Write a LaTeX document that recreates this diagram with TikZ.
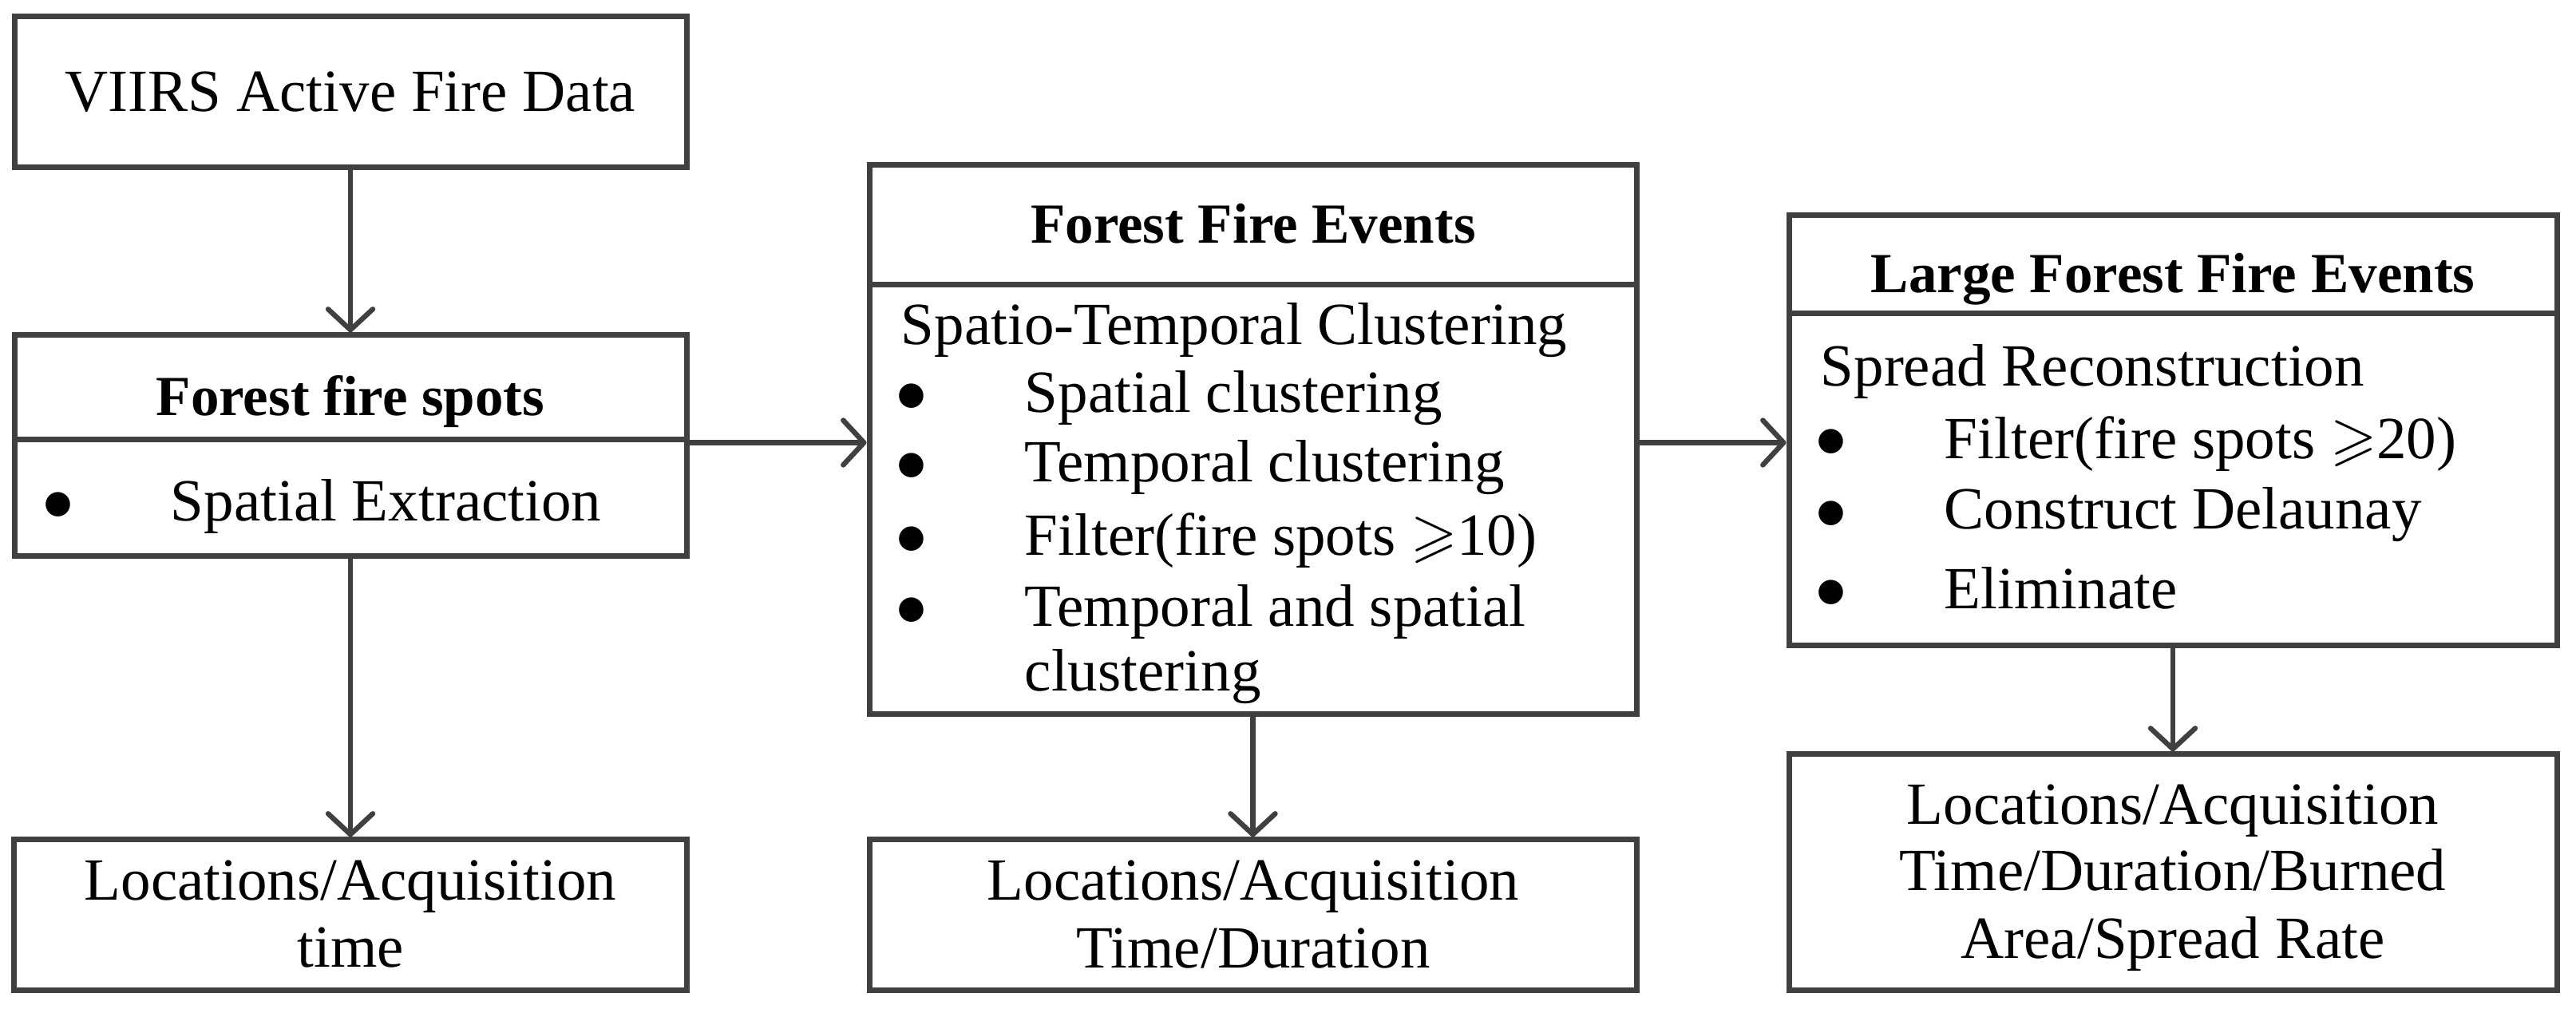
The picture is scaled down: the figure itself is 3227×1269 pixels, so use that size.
\documentclass[tikz,border=0pt]{standalone}
\usepackage{fontspec}
\setmainfont{Liberation Serif}
\newfontfamily\bulfont{DejaVu Sans}
\usepackage{amssymb}
\usetikzlibrary{arrows.meta}
\definecolor{lc}{HTML}{404040}
\begin{document}
\begin{tikzpicture}[x=0.25pt,y=-0.25pt,
  box/.style={draw=lc, line width=1.75pt, inner sep=0pt},
  txt/.style={inner sep=0pt, anchor=base, font=\fontsize{18.75}{22}\selectfont},
  ttl/.style={inner sep=0pt, anchor=base, font=\fontsize{17.75}{22}\selectfont\bfseries},
  lft/.style={inner sep=0pt, anchor=base west, font=\fontsize{18.75}{22}\selectfont},
  bul/.style={inner sep=0pt, anchor=center, font=\bulfont\fontsize{10}{10}\selectfont},
  arr/.style={draw=lc, line width=1.6pt, -{Straight Barb[length=6.5pt,width=14pt,round]}}]
\useasboundingbox (0,0) rectangle (3227,1269);
% column 1
\node[box, minimum width=210.5pt, minimum height=47.25pt] (A) at (439,115.5) {};
\node[txt] (tA) at (439,140) {VIIRS Active Fire Data};
\node[box, minimum width=210.5pt, minimum height=32.75pt] (Bh) at (439,485.5) {};
\node[ttl] (tBh) at (439,521) {Forest fire spots};
\node[box, minimum width=210.5pt, minimum height=36.5pt] (Bb) at (439,624) {};
\node[bul] (bB1) at (73,632) {●};
\node[lft] (tB1) at (213,653) {Spatial Extraction};
\node[box, minimum width=210.75pt, minimum height=47.25pt] (L1) at (438.5,1146.5) {};
\node[txt] (tL1a) at (439,1128) {Locations/Acquisition};
\node[txt] (tL1b) at (439,1212) {time};
% column 2
\node[box, minimum width=240.25pt, minimum height=37.5pt] (Ch) at (1569.5,282) {};
\node[ttl] (tCh) at (1570,305) {Forest Fire Events};
\node[box, minimum width=240.25pt, minimum height=134.5pt] (Cb) at (1569.5,626) {};
\node[lft] (tC0) at (1128,432) {Spatio-Temporal Clustering};
\node[bul] (bC1) at (1142,496) {●};
\node[bul] (bC2) at (1142,583) {●};
\node[bul] (bC3) at (1142,675) {●};
\node[bul] (bC4) at (1142,764) {●};
\node[lft] (tC1) at (1283,517) {Spatial clustering};
\node[lft] (tC2) at (1283,604) {Temporal clustering};
\node[lft] (tC3) at (1283,696) {Filter(fire spots $\geqslant$10)};
\node[lft] (tC4) at (1283,785) {Temporal and spatial};
\node[lft] (tC5) at (1283,866) {clustering};
\node[box, minimum width=240.25pt, minimum height=47.25pt] (L2) at (1569.5,1146.5) {};
\node[txt] (tL2a) at (1570,1128) {Locations/Acquisition};
\node[txt] (tL2b) at (1570,1213) {Time/Duration};
% column 3
\node[box, minimum width=240.5pt, minimum height=30.75pt] (Dh) at (2722,331.5) {};
\node[ttl] (tDh) at (2722,367) {Large Forest Fire Events};
\node[box, minimum width=240.5pt, minimum height=104pt] (Db) at (2722,601) {};
\node[lft] (tD0) at (2280,484) {Spread Reconstruction};
\node[bul] (bD1) at (2294,553) {●};
\node[bul] (bD2) at (2294,643) {●};
\node[bul] (bD3) at (2294,742) {●};
\node[lft] (tD1) at (2435,575) {Filter(fire spots $\geqslant$20)};
\node[lft] (tD2) at (2435,663) {Construct Delaunay};
\node[lft] (tD3) at (2435,763) {Eliminate};
\node[box, minimum width=240.5pt, minimum height=74pt] (L3) at (2722,1093) {};
\node[txt] (tL3a) at (2722,1033) {Locations/Acquisition};
\node[txt] (tL3b) at (2722,1116) {Time/Duration/Burned};
\node[txt] (tL3c) at (2722,1201) {Area/Spread Rate};
% connectors
\draw[arr] (A.south) -- (Bh.north);
\draw[arr] (Bb.south) -- (Bb.south |- L1.north);
\draw[arr] (Bh.south east) -- (Bh.south east -| Cb.west);
\draw[arr] (Cb.east |- Bh.south east) -- (Db.west |- Bh.south east);
\draw[arr] (Cb.south) -- (L2.north);
\draw[arr] (Db.south) -- (L3.north);
\end{tikzpicture}
\end{document}
